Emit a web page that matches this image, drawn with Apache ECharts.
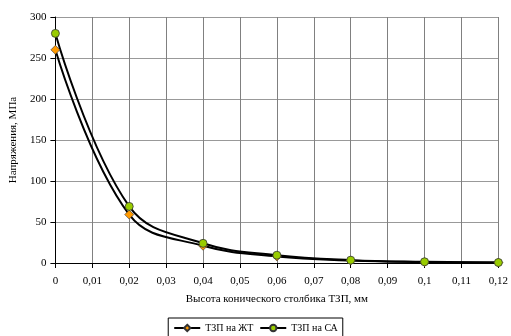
<!DOCTYPE html>
<html>
<head>
<meta charset="utf-8">
<script src="https://cdn.jsdelivr.net/npm/echarts@6/dist/echarts.min.js"></script>
<style>
    html, body { margin: 0; padding: 0; background: #fff; }
    #chart { width: 511px; height: 336px; }
</style>
</head>
<body>
<div id="chart"></div>
<script>
// высота столбика, мм
const heights = [0, 0.02, 0.04, 0.06, 0.08, 0.1, 0.12];
// ТЗП на ЖТ
const stressZht = [260, 59, 21, 8, 3, 1, 0.5];
// ТЗП на СА
const stressSa = [280, 69, 24, 9.5, 3.5, 1.5, 0.6];

const font = 'Liberation Serif';

function pairs(xs, ys) {
    return xs.map((x, i) => [x, ys[i]]);
}

let chart = echarts.init(document.getElementById('chart'));
let option = {
    animation: false,
    textStyle: { fontFamily: font },
    grid: { left: 55, right: 11, top: 17, bottom: 73 },
    legend: {
        bottom: -4,
        left: 'center',
        itemWidth: 26,
        itemHeight: 8,
        itemGap: 6,
        padding: [5, 5, 7, 5],
        borderColor: '#000',
        borderWidth: 1,
        textStyle: { fontFamily: font, fontSize: 10, color: '#000' },
        data: ['ТЗП на ЖТ', 'ТЗП на СА']
    },
    xAxis: {
        type: 'value',
        min: 0,
        max: 0.12,
        interval: 0.01,
        name: 'Высота конического столбика ТЗП, мм',
        nameLocation: 'middle',
        nameGap: 31,
        nameTextStyle: { fontFamily: font, fontSize: 11, color: '#000' },
        axisLine: { lineStyle: { color: '#000', width: 1 } },
        axisTick: { show: true, length: 5, lineStyle: { color: '#000' } },
        axisLabel: {
            fontFamily: font, fontSize: 11, color: '#000', margin: 13,
            formatter: v => String(+v.toFixed(2)).replace('.', ',')
        },
        splitLine: { show: true, lineStyle: { color: '#808080', width: 1 } }
    },
    yAxis: {
        type: 'value',
        min: 0,
        max: 300,
        interval: 50,
        name: 'Напряжения, МПа',
        nameLocation: 'middle',
        nameGap: 36,
        nameTextStyle: { fontFamily: font, fontSize: 11, color: '#000' },
        axisLine: { show: true, lineStyle: { color: '#000', width: 1 } },
        axisTick: { show: true, length: 5, lineStyle: { color: '#000' } },
        axisLabel: { fontFamily: font, fontSize: 11, color: '#000', margin: 9 },
        splitLine: { show: true, lineStyle: { color: '#999', width: 1 } }
    },
    series: [
        {
            name: 'ТЗП на ЖТ',
            type: 'line',
            smooth: 0.4,
            data: pairs(heights, stressZht),
            symbol: 'diamond',
            symbolSize: 9,
            lineStyle: { color: '#000', width: 2 },
            itemStyle: { color: '#ff9900', borderColor: '#333', borderWidth: 0.6 }
        },
        {
            name: 'ТЗП на СА',
            type: 'line',
            smooth: 0.4,
            data: pairs(heights, stressSa),
            symbol: 'circle',
            symbolSize: 8,
            lineStyle: { color: '#000', width: 2 },
            itemStyle: { color: '#99cc00', borderColor: '#333', borderWidth: 0.8 }
        }
    ]
};
chart.setOption(option);
</script>
</body>
</html>
